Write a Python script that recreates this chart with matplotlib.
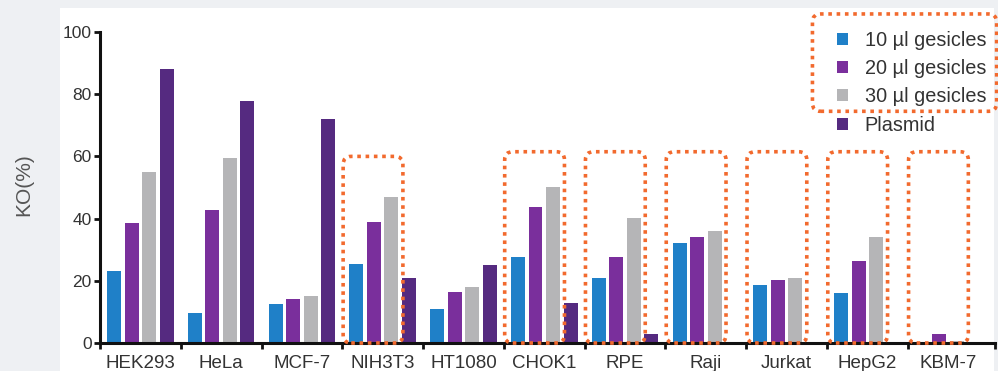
import matplotlib.pyplot as plt
from matplotlib.patches import Rectangle, FancyBboxPatch, Patch
import numpy as np

plt.rcParams['font.family'] = ['Liberation Sans', 'DejaVu Sans']

# data
cell_lines = ['HEK293', 'HeLa', 'MCF-7', 'NIH3T3', 'HT1080', 'CHOK1',
              'RPE', 'Raji', 'Jurkat', 'HepG2', 'KBM-7']
ges_10 = [23, 9.5, 12.5, 25.5, 11, 27.5, 21, 32.3, 18.7, 16.2, 0]
ges_20 = [38.5, 42.8, 14.2, 39, 16.4, 43.8, 27.6, 34, 20.1, 26.4, 3]
ges_30 = [55, 59.4, 15.2, 47, 18.1, 50.3, 40.3, 36, 20.9, 34.1, 0.8]
plasmid = [88.2, 77.8, 72, 20.9, 25.2, 12.9, 3, 0, 0, 0, 0]
series_names = ['10 µl gesicles', '20 µl gesicles', '30 µl gesicles', 'Plasmid']
highlighted = ['NIH3T3', 'CHOK1', 'RPE', 'Raji', 'Jurkat', 'HepG2', 'KBM-7']

colors = ['#1f80c8', '#7a2f9c', '#b5b5b7', '#552a80']
orange = '#f26a2e'

fig = plt.figure(figsize=(9.98, 3.71), dpi=100)
fig.patch.set_facecolor('#eef0f3')
fig.add_artist(Rectangle((60 / 998, 0), (994 - 60) / 998, (371 - 8) / 371,
                         transform=fig.transFigure, facecolor='white',
                         edgecolor='none', zorder=0))

ax = fig.add_axes([100 / 998, 28 / 371, 895 / 998, 311 / 371])
ax.set_facecolor('none')

x = np.arange(len(cell_lines))
step = 0.217
width = 0.173
all_series = [ges_10, ges_20, ges_30, plasmid]
for k, (vals, c, name) in enumerate(zip(all_series, colors, series_names)):
    ax.bar(x + (k - 1.5) * step, vals, width=width, color=c, label=name,
           zorder=2)

ax.set_xlim(-0.5, 10.58)
ax.set_ylim(0, 100)

for s in ['top', 'right']:
    ax.spines[s].set_visible(False)
for s in ['left', 'bottom']:
    ax.spines[s].set_linewidth(2.2)
    ax.spines[s].set_color('#111111')

ax.set_yticks([0, 20, 40, 60, 80, 100])
ax.tick_params(axis='y', length=4, width=2, pad=2, labelsize=12.5,
               labelcolor='#333333', color='#111111')
ax.set_xticks(x)
ax.set_xticklabels(cell_lines)
ax.tick_params(axis='x', which='major', length=0, pad=9, labelsize=13.5,
               labelcolor='#333333')
ax.set_xticks(list(np.arange(-0.5, 10, 1.0)) + [10.58], minor=True)
ax.tick_params(axis='x', which='minor', length=4, width=2, color='#111111')

fig.text(24 / 998, 1 - 185 / 371, 'KO(%)', rotation=90, fontsize=15,
         color='#555555', ha='center', va='center')

# dotted highlight boxes
px_x = 80.7   # pixels per group
px_y = 3.1    # pixels per percent
for name in highlighted:
    i = cell_lines.index(name)
    top = 60 if name == 'NIH3T3' else 61.5
    box = FancyBboxPatch((i - 0.49, 0), 0.74, top,
                         boxstyle='round,pad=0,rounding_size=0.1',
                         mutation_aspect=px_x / px_y, fill=False,
                         edgecolor=orange, linewidth=2.6,
                         linestyle=(0, (1, 1.3)), capstyle='butt',
                         zorder=3, clip_on=False)
    ax.add_patch(box)

handles = [Patch(facecolor=c, edgecolor='none') for c in colors]
leg = ax.legend(handles, series_names, loc='upper right',
                bbox_to_anchor=(0.999, 1.03), frameon=False, fontsize=14.3,
                handlelength=0.55, handleheight=0.55, handletextpad=0.85,
                labelspacing=0.47, borderaxespad=0)
for t in leg.get_texts():
    t.set_color('#333333')

legbox = FancyBboxPatch((8.32, 74.5), 2.28, 31.3,
                        boxstyle='round,pad=0,rounding_size=0.1',
                        mutation_aspect=px_x / px_y, fill=False,
                        edgecolor=orange, linewidth=2.6,
                        linestyle=(0, (1, 1.3)), capstyle='butt',
                        zorder=3, clip_on=False)
ax.add_patch(legbox)

fig.savefig('out.png', dpi=100, facecolor=fig.get_facecolor())
